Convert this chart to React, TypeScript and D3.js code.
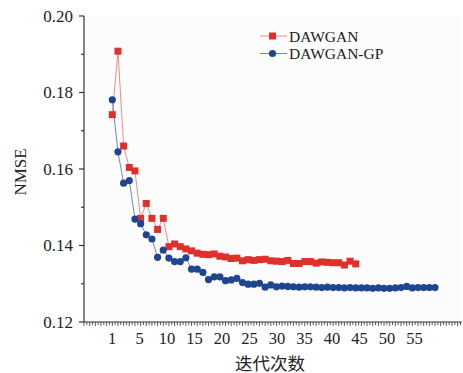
import React from "react";
import * as d3 from "d3";

const dawgan: number[] = [
  0.1742, 0.1908, 0.166, 0.1604, 0.1595, 0.1471, 0.151, 0.1471, 0.1442, 0.1471,
  0.1397, 0.1404, 0.1397, 0.1391, 0.1386, 0.138, 0.1377, 0.1376, 0.1378, 0.1372,
  0.137, 0.1366, 0.1367, 0.136, 0.1363, 0.1361, 0.1363, 0.1364, 0.136, 0.1359,
  0.1358, 0.1361, 0.1353, 0.1353, 0.1358, 0.1358, 0.1354, 0.1357, 0.1356, 0.1355,
  0.1355, 0.1349, 0.1359, 0.1352,
];

const dawganGP: number[] = [
  0.1781, 0.1645, 0.1563, 0.157, 0.1469, 0.1457, 0.1428, 0.1417, 0.1369, 0.1388,
  0.1367, 0.1358, 0.1358, 0.1368, 0.1338, 0.1338, 0.133, 0.1311, 0.1318, 0.1318,
  0.1308, 0.131, 0.1314, 0.1303, 0.1299, 0.1299, 0.1301, 0.1291, 0.1297, 0.1292,
  0.1294, 0.1293, 0.1292, 0.1291, 0.1292, 0.1292, 0.1291, 0.129, 0.1291, 0.129,
  0.129, 0.1289, 0.129, 0.1289, 0.1289, 0.1289, 0.1288, 0.1289, 0.1288, 0.1288,
  0.1289, 0.129, 0.1293, 0.1289, 0.129, 0.129, 0.129, 0.129,
];

const xTickText: string[] = ["1", "5", "10", "15", "20", "25", "30", "35", "40", "45", "50", "55"];
const xTickPos: number[] = [0, 5, 10, 15, 20, 25, 30, 35, 40, 45, 50, 55];
const yTicks: number[] = [0.12, 0.14, 0.16, 0.18, 0.2];
const yMinor: number[] = [0.13, 0.15, 0.17, 0.19];
const seriesNames = ["DAWGAN", "DAWGAN-GP"];

const RED = "#e0302c";
const RED_LINE = "#f08a86";
const BLUE = "#1f4591";
const BLUE_LINE = "#6d86c2";
const AXIS = "#333";
const SERIF = "'Liberation Serif', 'Times New Roman', serif";

export default function App() {
  const W = 463;
  const H = 373;
  const x = d3.scaleLinear().domain([-4, 62.7]).range([84, 461.6]);
  const xl = d3.scaleLinear().domain([0, 55]).range([112, 414.5]);
  const y = d3.scaleLinear().domain([0.12, 0.2]).range([322, 16]);

  const line = d3
    .line<number>()
    .x((_, i) => x(i + 1))
    .y((d) => y(d));

  const minorX = d3.range(-4, 62.6, 0.5);

  return (
    <svg width={W} height={H} style={{ position: "absolute", left: 0, top: 0, background: "#fff" }}>
      <rect x={84} y={16} width={378} height={306} fill="#fcfcfc" />
      {/* y axis */}
      <line x1={84} x2={84} y1={16} y2={322} stroke={AXIS} strokeWidth={1.2} />
      {yTicks.map((t) => (
        <g key={t}>
          <line x1={79} x2={84} y1={y(t)} y2={y(t)} stroke={AXIS} strokeWidth={1.2} />
          <text x={73} y={y(t) + 5.5} textAnchor="end" fontFamily={SERIF} fontSize={17} fill="#222">
            {t.toFixed(2)}
          </text>
        </g>
      ))}
      {yMinor.map((t) => (
        <line key={t} x1={81} x2={84} y1={y(t)} y2={y(t)} stroke={AXIS} strokeWidth={1.2} />
      ))}
      {/* x axis */}
      <line x1={84} x2={462} y1={322} y2={322} stroke={AXIS} strokeWidth={1.2} />
      {minorX.map((t, i) => (
        <line key={i} x1={x(t)} x2={x(t)} y1={322} y2={Number.isInteger(t) ? 326 : 325} stroke={AXIS} strokeWidth={0.8} />
      ))}
      {xTickText.map((s, i) => (
        <text key={s} x={xl(xTickPos[i])} y={344} textAnchor="middle" fontFamily={SERIF} fontSize={16.5} fill="#222">
          {s}
        </text>
      ))}
      <text
        x={0}
        y={0}
        transform={`translate(26,172) rotate(-90)`}
        textAnchor="middle"
        fontFamily={SERIF}
        fontSize={17}
        fill="#222"
      >
        NMSE
      </text>
      <text x={270} y={369.5} textAnchor="middle" fontFamily="'Noto Sans CJK SC', sans-serif" fontSize={17.5} fill="#222">
        迭代次数
      </text>

      {/* series */}
      <path d={line(dawgan) || ""} fill="none" stroke={RED_LINE} strokeWidth={1} />
      <path d={line(dawganGP) || ""} fill="none" stroke={BLUE_LINE} strokeWidth={1} />
      {dawgan.map((v, i) => (
        <rect key={"r" + i} x={x(i + 1) - 3.5} y={y(v) - 3.5} width={7} height={7} fill={RED} />
      ))}
      {dawganGP.map((v, i) => (
        <circle key={"b" + i} cx={x(i + 1)} cy={y(v)} r={3.6} fill={BLUE} />
      ))}

      {/* legend */}
      <line x1={260} x2={287} y1={36} y2={36} stroke={RED_LINE} strokeWidth={1} />
      <rect x={269} y={32.5} width={7} height={7} fill={RED} />
      <text x={289} y={41.5} fontFamily={SERIF} fontSize={15.5} fill="#222">
        {seriesNames[0]}
      </text>
      <line x1={260} x2={287} y1={53.5} y2={53.5} stroke={BLUE_LINE} strokeWidth={1} />
      <circle cx={272.5} cy={53.5} r={3.6} fill={BLUE} />
      <text x={289} y={59} fontFamily={SERIF} fontSize={15.5} fill="#222">
        {seriesNames[1]}
      </text>
    </svg>
  );
}
